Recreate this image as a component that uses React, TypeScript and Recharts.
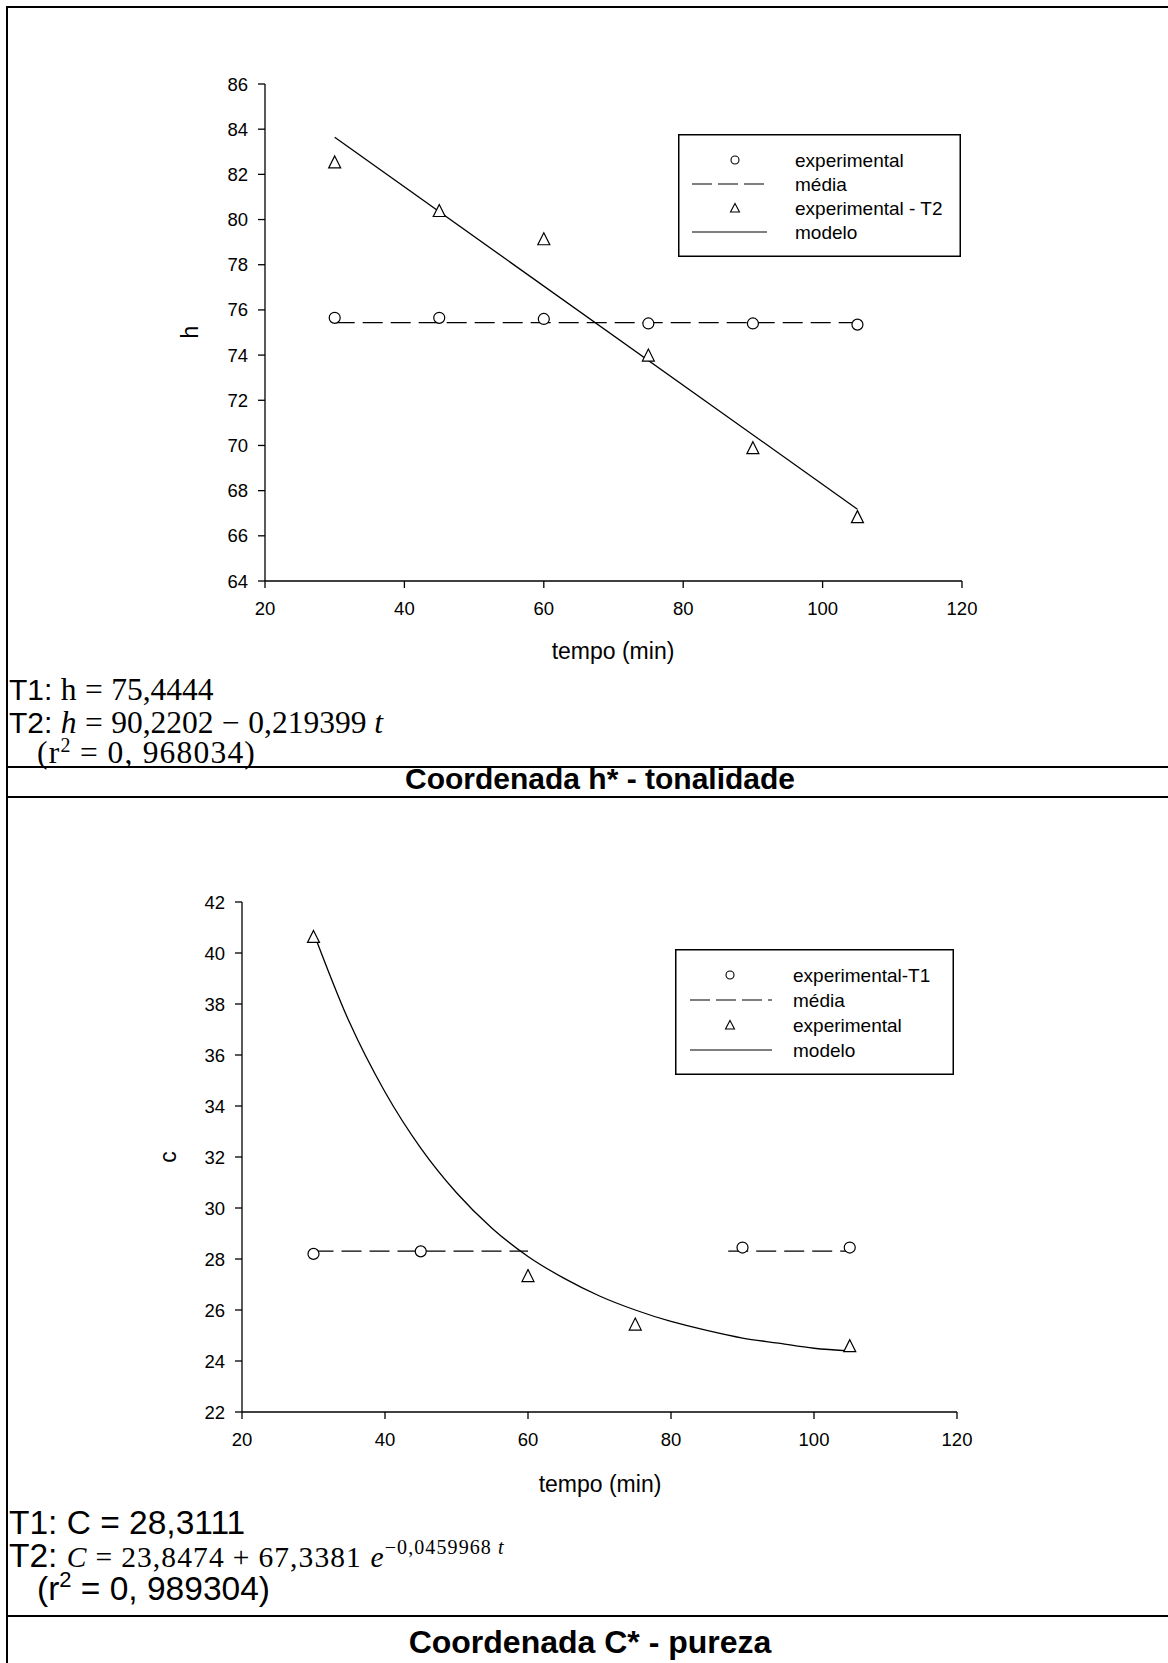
import React from 'react';
import { ComposedChart, Line, Scatter, XAxis, YAxis } from 'recharts';

// tempo (min) on the x axis, shared by both panels
const X_TICKS = [20, 40, 60, 80, 100, 120];
const H_TICKS = [64, 66, 68, 70, 72, 74, 76, 78, 80, 82, 84, 86];
const C_TICKS = [22, 24, 26, 28, 30, 32, 34, 36, 38, 40, 42];

// Panel 1 - h*
const hTempo = [30, 45, 60, 75, 90, 105];
const hExperimental = [75.65, 75.65, 75.6, 75.4, 75.4, 75.35];
const hExperimentalT2 = [82.55, 80.4, 79.15, 74.0, 69.9, 66.85];
const hMediaTempo = [30, 105];
const hMedia = [75.44, 75.44];
const hModeloTempo = [30, 105];
const hModelo = [83.64, 67.18];

// Panel 2 - C*
const cTempoT1 = [30, 45, 90, 105];
const cExperimentalT1 = [28.2, 28.3, 28.45, 28.45];
const cTempoExp = [30, 60, 75, 105];
const cExperimental = [40.65, 27.35, 25.45, 24.6];
const cMediaTempoA = [30, 60];
const cMediaA = [28.31, 28.31];
const cMediaTempoB = [88, 105];
const cMediaB = [28.31, 28.31];
const cModeloTempo = [30, 35, 40, 45, 50, 55, 60, 65, 70, 75, 80, 85, 90, 95, 100, 105];
const cModelo = [40.8, 37.3, 34.55, 32.35, 30.6, 29.2, 28.1, 27.25, 26.55, 26.0, 25.55, 25.2, 24.9, 24.7, 24.5, 24.4];

const pts = (xs: number[], ys: number[]) => xs.map((x, i) => ({ x, y: ys[i] }));

const SANS = '"Liberation Sans", Arial, sans-serif';
const SERIF = '"Liberation Serif", "Times New Roman", serif';

const Circle = (props: any) => (
  <circle cx={props.cx} cy={props.cy} r={5.5} fill="#fff" stroke="#000" strokeWidth={1.2} />
);

const Triangle = (props: any) => {
  const { cx, cy } = props;
  const s = 6;
  return (
    <path
      d={`M${cx},${cy - s} L${cx + s},${cy + s} L${cx - s},${cy + s} Z`}
      fill="#fff"
      stroke="#000"
      strokeWidth={1.2}
    />
  );
};

const axisLine = { stroke: '#000', strokeWidth: 1.3 };
const tickStyle = { fill: '#000', fontSize: 18.5, fontFamily: SANS };

function Legend({ left, top, width, height, rows, sym, line, textX, labels }: any) {
  return (
    <svg style={{ position: 'absolute', left, top }} width={width} height={height}>
      <rect x={0.75} y={0.75} width={width - 1.5} height={height - 1.5} fill="#fff" stroke="#000" strokeWidth={1.5} />
      <circle cx={sym} cy={rows[0]} r={4} fill="none" stroke="#000" strokeWidth={1.1} />
      <line x1={line[0]} x2={line[1]} y1={rows[1]} y2={rows[1]} stroke="#000" strokeWidth={1.2} strokeDasharray="20 6" />
      <path d={`M${sym},${rows[2] - 4.5} L${sym + 4.5},${rows[2] + 4} L${sym - 4.5},${rows[2] + 4} Z`} fill="none" stroke="#000" strokeWidth={1.1} />
      <line x1={line[0]} x2={line[1]} y1={rows[3]} y2={rows[3]} stroke="#000" strokeWidth={1.2} />
      {labels.map((t: string, i: number) => (
        <text key={t} x={textX} y={rows[i]} dominantBaseline="central" fontSize={19} fontFamily={SANS} fill="#000">
          {t}
        </text>
      ))}
    </svg>
  );
}

const abs = (left: number, top: number, extra: React.CSSProperties = {}): React.CSSProperties => ({
  position: 'absolute',
  left,
  top,
  transform: 'translateY(-50%)',
  whiteSpace: 'nowrap',
  lineHeight: 1,
  ...extra,
});

const op = { margin: '0 0.27em' };
const hMath: React.CSSProperties = { fontFamily: SERIF, fontSize: 31.5 };
const cMath: React.CSSProperties = { fontFamily: SERIF, fontSize: 29.5, letterSpacing: 1.1 };
const rule = (top: number) => (
  <div style={{ position: 'absolute', left: 6, top, width: 1200, height: 2, background: '#000' }} />
);

export default function App() {
  return (
    <div
      style={{
        position: 'absolute',
        left: 0,
        top: 0,
        width: 1168,
        height: 1663,
        overflow: 'hidden',
        background: '#fff',
        color: '#000',
        fontFamily: SANS,
      }}
    >
      {/* Panel 1 */}
      <div style={{ position: 'absolute', left: 0, top: 0 }}>
        <ComposedChart width={1168} height={700} margin={{ top: 84, right: 206, bottom: 79, left: 205 }}>
          <XAxis
            type="number"
            dataKey="x"
            domain={[20, 120]}
            ticks={X_TICKS}
            interval={0}
            allowDataOverflow
            height={40}
            tickSize={7}
            tickMargin={14}
            axisLine={axisLine}
            tickLine={axisLine}
            tick={tickStyle}
          />
          <YAxis
            type="number"
            dataKey="y"
            domain={[64, 86]}
            ticks={H_TICKS}
            interval={0}
            allowDataOverflow
            width={60}
            tickSize={7}
            tickMargin={10}
            axisLine={axisLine}
            tickLine={axisLine}
            tick={tickStyle}
          />
          <Line data={pts(hMediaTempo, hMedia)} dataKey="y" type="linear" stroke="#000" strokeWidth={1.2} strokeDasharray="20 8" dot={false} activeDot={false} isAnimationActive={false} />
          <Line data={pts(hModeloTempo, hModelo)} dataKey="y" type="linear" stroke="#000" strokeWidth={1.3} dot={false} activeDot={false} isAnimationActive={false} />
          <Scatter data={pts(hTempo, hExperimental)} dataKey="y" shape={Circle} isAnimationActive={false} />
          <Scatter data={pts(hTempo, hExperimentalT2)} dataKey="y" shape={Triangle} isAnimationActive={false} />
        </ComposedChart>
      </div>
      <Legend
        left={678}
        top={134}
        width={283}
        height={123}
        rows={[26, 50, 74, 98]}
        sym={57}
        line={[14, 89]}
        textX={117}
        labels={['experimental', 'média', 'experimental - T2', 'modelo']}
      />
      <div style={{ position: 'absolute', left: 190, top: 332, transform: 'translate(-50%,-50%) rotate(-90deg)', fontSize: 23, lineHeight: 1 }}>h</div>
      <div style={{ position: 'absolute', left: 613, top: 651, transform: 'translate(-50%,-50%)', fontSize: 23, lineHeight: 1, whiteSpace: 'nowrap' }}>tempo (min)</div>

      <div style={abs(9, 690, { fontSize: 30 })}>
        T1: <span style={hMath}>h<span style={op}>=</span>75,4444</span>
      </div>
      <div style={abs(9, 723, { fontSize: 30 })}>
        T2: <span style={hMath}><i>h</i><span style={op}>=</span>90,2202<span style={op}>−</span>0,219399 <i>t</i></span>
      </div>
      <div style={abs(37, 753, { ...hMath, letterSpacing: 1.2 })}>
        (r<sup style={{ fontSize: 20, verticalAlign: '0.55em', lineHeight: 0 }}>2</sup><span style={op}>=</span>0, 968034)
      </div>
      <div style={{ position: 'absolute', left: 12, width: 1176, top: 779, transform: 'translateY(-50%)', textAlign: 'center', fontWeight: 'bold', fontSize: 30, lineHeight: 1 }}>
        Coordenada h* - tonalidade
      </div>

      {/* Panel 2 */}
      <div style={{ position: 'absolute', left: 0, top: 818 }}>
        <ComposedChart width={1168} height={700} margin={{ top: 84, right: 211, bottom: 66, left: 182 }}>
          <XAxis
            type="number"
            dataKey="x"
            domain={[20, 120]}
            ticks={X_TICKS}
            interval={0}
            allowDataOverflow
            height={40}
            tickSize={7}
            tickMargin={14}
            axisLine={axisLine}
            tickLine={axisLine}
            tick={tickStyle}
          />
          <YAxis
            type="number"
            dataKey="y"
            domain={[22, 42]}
            ticks={C_TICKS}
            interval={0}
            allowDataOverflow
            width={60}
            tickSize={7}
            tickMargin={10}
            axisLine={axisLine}
            tickLine={axisLine}
            tick={tickStyle}
          />
          <Line data={pts(cMediaTempoA, cMediaA)} dataKey="y" type="linear" stroke="#000" strokeWidth={1.2} strokeDasharray="20 8" dot={false} activeDot={false} isAnimationActive={false} />
          <Line data={pts(cMediaTempoB, cMediaB)} dataKey="y" type="linear" stroke="#000" strokeWidth={1.2} strokeDasharray="20 8" dot={false} activeDot={false} isAnimationActive={false} />
          <Line data={pts(cModeloTempo, cModelo)} dataKey="y" type="monotone" stroke="#000" strokeWidth={1.3} dot={false} activeDot={false} isAnimationActive={false} />
          <Scatter data={pts(cTempoT1, cExperimentalT1)} dataKey="y" shape={Circle} isAnimationActive={false} />
          <Scatter data={pts(cTempoExp, cExperimental)} dataKey="y" shape={Triangle} isAnimationActive={false} />
        </ComposedChart>
      </div>
      <Legend
        left={675}
        top={949}
        width={279}
        height={126}
        rows={[26, 51, 76, 101]}
        sym={55}
        line={[15, 97]}
        textX={118}
        labels={['experimental-T1', 'média', 'experimental', 'modelo']}
      />
      <div style={{ position: 'absolute', left: 168, top: 1157, transform: 'translate(-50%,-50%) rotate(-90deg)', fontSize: 23, lineHeight: 1 }}>c</div>
      <div style={{ position: 'absolute', left: 600, top: 1484, transform: 'translate(-50%,-50%)', fontSize: 23, lineHeight: 1, whiteSpace: 'nowrap' }}>tempo (min)</div>

      <div style={abs(9, 1523, { fontSize: 33.5 })}>T1: C = 28,3111</div>
      <div style={abs(9, 1556, { fontSize: 33.5 })}>
        T2: <span style={cMath}><i>C</i><span style={op}>=</span>23,8474<span style={op}>+</span>67,3381 <i>e</i>
          <sup style={{ fontSize: 20, verticalAlign: '0.65em', lineHeight: 0 }}>−0,0459968 <i>t</i></sup>
        </span>
      </div>
      <div style={abs(37, 1589, { fontSize: 33.5 })}>
        (r<sup style={{ fontSize: 22, verticalAlign: '0.6em', lineHeight: 0 }}>2</sup> = 0, 989304)
      </div>
      <div style={{ position: 'absolute', left: 2, width: 1176, top: 1642, transform: 'translateY(-50%)', textAlign: 'center', fontWeight: 'bold', fontSize: 32, lineHeight: 1 }}>
        Coordenada C* - pureza
      </div>

      {/* table frame, drawn last so the rules sit on top of the text */}
      <div style={{ position: 'absolute', left: 6, top: 6, width: 2, height: 1700, background: '#000' }} />
      {rule(6)}
      {rule(766)}
      {rule(796)}
      {rule(1615)}
    </div>
  );
}
